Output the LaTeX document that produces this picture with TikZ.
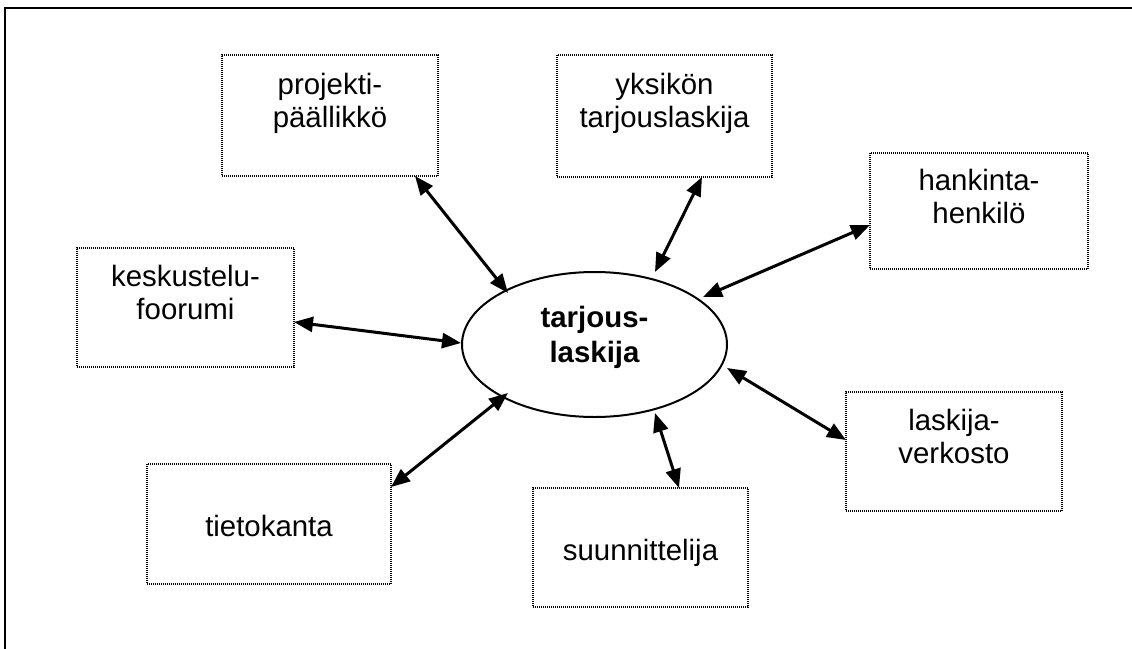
\documentclass[tikz,border=0pt]{standalone}
\usepackage{fontspec}
\setmainfont{Liberation Sans}
\usetikzlibrary{arrows.meta,shapes.geometric}
\begin{document}
\begin{tikzpicture}[x=0.5pt,y=-0.5pt,
  dotbox/.style={draw, dash pattern=on 0.5pt off 0.5pt, line width=0.6pt,
    inner sep=0pt, outer sep=0pt},
  boxtext/.style={anchor=base, align=center, font=\fontsize{14.7}{16.5}\selectfont},
  hubtext/.style={anchor=base, align=center, font=\fontsize{14.7}{17.5}\selectfont\bfseries},
  link/.style={line width=1.5pt,
    {Triangle[length=9.5pt,width=7.5pt]}-{Triangle[length=9.5pt,width=7.5pt]}},
]
\useasboundingbox (0,0) rectangle (1132,649);

% page frame (top and left edges)
\draw[line width=1.3pt] (1132,8) -- (5,8) -- (5,649);

% central actor; the base anchor of a two-line label sits on its last line
\node[ellipse, draw, line width=1pt, minimum width=132.5pt, minimum height=72.5pt,
  inner sep=0pt, outer sep=0pt] (tl) at (594.5,344.5) {};
\node[hubtext] (tlt) at (594.5,362) {tarjous-\\laskija};

% surrounding parties
\node[dotbox, minimum width=108pt, minimum height=60.5pt] (pp) at (330,115.5) {};
\node[boxtext] (ppt) at (330,127) {projekti-\\päällikkö};

\node[dotbox, minimum width=107.5pt, minimum height=61pt] (yk) at (664.5,116) {};
\node[boxtext] (ykt) at (664.5,127) {yksikön\\tarjouslaskija};

\node[dotbox, minimum width=109pt, minimum height=58pt] (hk) at (979,211) {};
\node[boxtext] (hkt) at (979,223) {hankinta-\\henkilö};

\node[dotbox, minimum width=108.5pt, minimum height=59.5pt] (ks) at (185.5,307.5) {};
\node[boxtext] (kst) at (185.5,319) {keskustelu-\\foorumi};

\node[dotbox, minimum width=108pt, minimum height=59.5pt] (lv) at (954,451.5) {};
\node[boxtext] (lvt) at (954,463) {laskija-\\verkosto};

\node[dotbox, minimum width=122pt, minimum height=60pt] (tk) at (269,524) {};
\node[boxtext] (tkt) at (269,536) {tietokanta};

\node[dotbox, minimum width=107.5pt, minimum height=59.5pt] (su) at (640.5,547.5) {};
\node[boxtext] (sut) at (640.5,560) {suunnittelija};

% two-way links
\draw[link] ([shift={(85,0)}]pp.south)   -- ([shift={(-86.5,-51.5)}]tl.center);
\draw[link] ([shift={(37.5,0)}]yk.south) -- ([shift={(60.5,-72.5)}]tl.center);
\draw[link] ([shift={(0,14)}]hk.west)    -- ([shift={(108.5,-47.5)}]tl.center);
\draw[link] ([shift={(0,14.5)}]ks.east)  -- ([shift={(-133.5,-1.5)}]tl.center);
\draw[link] ([shift={(0,-37)}]tk.east)   -- ([shift={(-86.5,48.5)}]tl.center);
\draw[link] ([shift={(38.5,0)}]su.north) -- ([shift={(60.5,68.5)}]tl.center);
\draw[link] ([shift={(0,-11.5)}]lv.west) -- ([shift={(132.5,23.5)}]tl.center);
\end{tikzpicture}
\end{document}
